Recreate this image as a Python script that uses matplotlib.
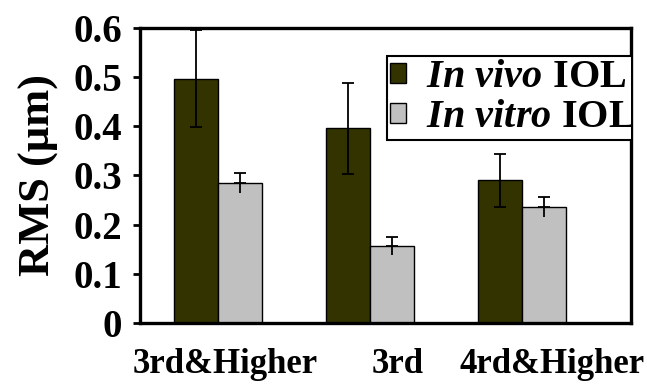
import matplotlib
matplotlib.use("Agg")
import matplotlib.pyplot as plt
import numpy as np

plt.rcParams['font.family'] = ['Liberation Serif', 'DejaVu Serif']
plt.rcParams['mathtext.fontset'] = 'custom'
plt.rcParams['mathtext.it'] = 'Liberation Serif:italic:bold'
plt.rcParams['mathtext.rm'] = 'Liberation Serif:bold'
plt.rcParams['mathtext.bf'] = 'Liberation Serif:bold'

categories = ['3rd&Higher', '3rd', '4rd&Higher']
in_vivo = [0.497, 0.396, 0.290]
in_vivo_err = [0.099, 0.092, 0.054]
in_vitro = [0.285, 0.157, 0.236]
in_vitro_err = [0.021, 0.018, 0.021]
series_labels = [r'$\mathit{In\ vivo}\ $IOL', r'$\mathit{In\ vitro}\ $IOL']
yticks = [0, 0.1, 0.2, 0.3, 0.4, 0.5, 0.6]
ytick_labels = ['0', '0.1', '0.2', '0.3', '0.4', '0.5', '0.6']

fig = plt.figure(figsize=(6.47, 3.84), dpi=100)
ax = fig.add_axes([0.2164, 0.1589, 0.7589, 0.7682])

x = np.arange(len(categories))
w = 0.29
dark = '#333300'
light = '#c0c0c0'

ax.bar(x - w / 2, in_vivo, w, color=dark, edgecolor='black', linewidth=1.0,
       label=series_labels[0], zorder=2)
ax.bar(x + w / 2, in_vitro, w, color=light, edgecolor='black', linewidth=1.0,
       label=series_labels[1], zorder=2)

ax.errorbar(x - w / 2, in_vivo, yerr=in_vivo_err, fmt='none', ecolor='black',
            elinewidth=1.3, capsize=4, capthick=1.3, zorder=3, clip_on=False)
# in vitro bars: cap only on the upper whisker
ax.errorbar(x + w / 2, in_vitro, yerr=[np.zeros(3), in_vitro_err], fmt='none',
            ecolor='black', elinewidth=1.3, capsize=4, capthick=1.3, zorder=3)
ax.errorbar(x + w / 2, in_vitro, yerr=[in_vitro_err, np.zeros(3)], fmt='none',
            ecolor='black', elinewidth=1.3, capsize=0, zorder=3)

ax.set_xlim(-0.513, 2.717)
ax.set_ylim(0, 0.6)
ax.set_yticks(yticks)
ax.set_yticklabels(ytick_labels, fontsize=28, fontweight='bold')
ax.set_xticks([0.05, 1.18, 2.2])
ax.set_xticklabels(categories, fontsize=25, fontweight='bold')
ax.tick_params(axis='x', length=0, pad=18)
ax.tick_params(axis='y', length=5, width=2, pad=8, direction='out')
for s in ax.spines.values():
    s.set_linewidth(2.4)

ax.set_ylabel('RMS (μm)', fontsize=32, fontweight='bold', labelpad=10)

leg = ax.legend(loc='upper left', bbox_to_anchor=(0.503, 0.905), fontsize=29,
                frameon=True, fancybox=False, edgecolor='black', framealpha=1,
                handlelength=0.4, handleheight=0.4, handletextpad=0.5,
                borderpad=0.08, labelspacing=0.08, borderaxespad=0)
leg.get_frame().set_linewidth(1.5)
for t in leg.get_texts():
    t.set_fontweight('bold')
for a in leg.findobj():
    a.set_clip_on(True)
    a.set_clip_box(ax.bbox)

fig.savefig('out.png', dpi=100)
